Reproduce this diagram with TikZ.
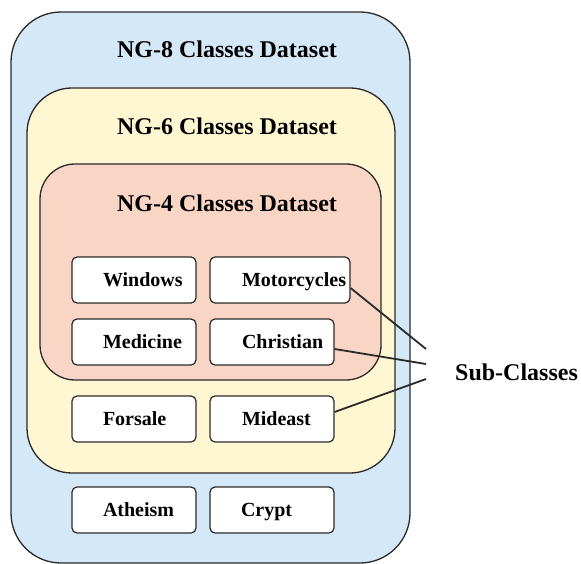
\documentclass[tikz,border=0pt]{standalone}
\usepackage{fontspec}
\setmainfont{Liberation Serif}
\usetikzlibrary{calc}
\definecolor{ngblue}{HTML}{D5E8F7}
\definecolor{ngyellow}{HTML}{FFF7D2}
\definecolor{ngpink}{HTML}{F8D5C5}
\definecolor{ngline}{HTML}{2A2A2A}
\begin{document}
\begin{tikzpicture}[x=1pt,y=-1pt,
  region/.style={draw=ngline, line width=1.3pt, inner sep=0pt},
  title/.style={font=\fontsize{24}{27}\selectfont\bfseries, inner sep=0pt, text height=16pt, text depth=0pt},
  cls/.style={draw=ngline, line width=1.2pt, fill=white, rounded corners=5pt,
    minimum height=46pt, inner xsep=0pt, inner ysep=0pt, align=left,
    text height=13.5pt, text depth=0pt,
    font=\fontsize{20}{22}\selectfont\bfseries},
  link/.style={draw=ngline, line width=1.8pt}]
\useasboundingbox (0,0) rectangle (581,564);
% nested regions
\node[region, fill=ngblue, rounded corners=50pt, minimum width=399pt, minimum height=551pt] (ng8) at (210.5,287.5) {};
\node[region, fill=ngyellow, rounded corners=45pt, minimum width=368pt, minimum height=385pt] (ng6) at (211,280.5) {};
\node[region, fill=ngpink, rounded corners=35pt, minimum width=341pt, minimum height=216pt] (ng4) at (210.5,272) {};
% titles
\node[title] (t8) at (227,50) {NG-8 Classes Dataset};
\node[title] (t6) at (227,127) {NG-6 Classes Dataset};
\node[title] (t4) at (227,204) {NG-4 Classes Dataset};
% class boxes
\node[cls, text width=124pt] (win) at (134,280) {\hspace*{31pt}Windows};
\node[cls, text width=140pt] (mot) at (280,280) {\hspace*{32pt}Motorcycles};
\node[cls, text width=124pt] (med) at (134,342) {\hspace*{31pt}Medicine};
\node[cls, text width=124pt] (chr) at (272,342) {\hspace*{32pt}Christian};
\node[cls, text width=124pt] (for) at (134,419) {\hspace*{31pt}Forsale};
\node[cls, text width=124pt] (mid) at (272,419) {\hspace*{32pt}Mideast};
\node[cls, text width=124pt] (ath) at (134,510) {\hspace*{31pt}Atheism};
\node[cls, text width=124pt] (cry) at (272,510) {\hspace*{31pt}Crypt};
% sub-classes label
\node[title, anchor=west] (sub) at (455,372) {Sub-Classes};
\coordinate (e1) at (426,349);
\coordinate (e2) at (426,364);
\coordinate (e3) at (426,379);
\draw[link] ([yshift=-8pt]mot.east) -- (e1);
\draw[link] ([yshift=-7pt]chr.east) -- (e2);
\draw[link] ([yshift=7pt]mid.east) -- (e3);
\end{tikzpicture}
\end{document}
